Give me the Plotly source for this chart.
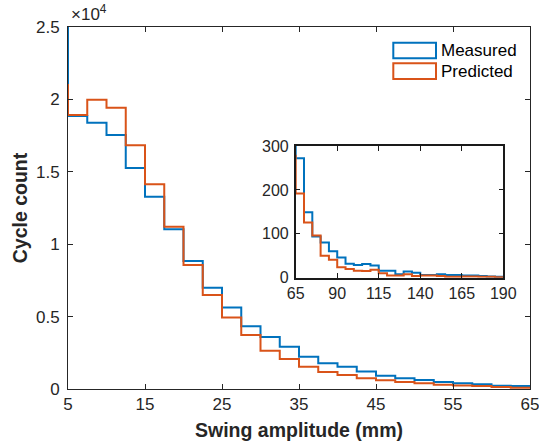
import plotly.graph_objects as go

# ---------------- data ----------------
# main histogram: bin left edges (mm), first and last bins lie outside the visible range
main_edges = [2.5, 5, 7.5, 10, 12.5, 15, 17.5, 20, 22.5, 25, 27.5, 30, 32.5, 35,
              37.5, 40, 42.5, 45, 47.5, 50, 52.5, 55, 57.5, 60, 62.5, 65, 67.5]
main_measured = [27000, 18850, 18390, 17540, 15260, 13280, 11030, 8840, 7000, 5620,
                 4330, 3590, 2920, 2230, 1770, 1540, 1200, 920, 740, 620, 480, 390,
                 320, 230, 200, 180]
main_predicted = [21000, 18920, 19980, 19430, 16830, 14140, 11210, 8560, 6490, 4930,
                  3730, 2650, 2070, 1540, 1170, 970, 740, 600, 480, 390, 300, 250,
                  200, 140, 90, 80]

# inset histogram (large amplitudes)
inset_edges = [60, 65, 70, 75, 80, 85, 90, 95, 100, 105, 110, 115, 120, 125, 130,
               135, 140, 145, 150, 155, 160, 165, 170, 175, 180, 185, 190, 195]
inset_measured = [400, 272, 149, 94, 80, 60, 46, 32, 29, 31, 28, 16, 16, 8, 14, 11,
                  6, 6, 8, 6, 6, 5, 5, 4, 3, 2, 2]
inset_predicted = [278, 192, 126, 96, 50, 41, 24, 20, 16, 15, 18, 10, 5, 5, 8, 4, 5,
                   5, 4, 2, 2, 3, 3, 2, 2, 1, 1]

main_xticks = [5, 15, 25, 35, 45, 55, 65]
main_yticks = [0, 5000, 10000, 15000, 20000, 25000]
main_yticktext = ["0", "0.5", "1", "1.5", "2", "2.5"]
inset_xticks = [65, 90, 115, 140, 165, 190]
inset_yticks = [0, 100, 200, 300]
series_names = ["Measured", "Predicted"]

BLUE = "#0072BD"
ORANGE = "#D95319"
AX = "#262626"
FONT = "Liberation Sans, Arial, sans-serif"


def stairs(edges, vals):
    # x = left edges plus final right edge; y repeats last value
    return list(edges), list(vals) + [vals[-1]]


fig = go.Figure()
for vals, col in [(main_measured, BLUE), (main_predicted, ORANGE)]:
    x, y = stairs(main_edges, vals)
    fig.add_trace(go.Scatter(x=x, y=y, mode="lines", line=dict(color=col, width=2, shape="hv"),
                             showlegend=False, xaxis="x", yaxis="y"))
for vals, col in [(inset_measured, BLUE), (inset_predicted, ORANGE)]:
    x, y = stairs(inset_edges, vals)
    fig.add_trace(go.Scatter(x=x, y=y, mode="lines", line=dict(color=col, width=2, shape="hv"),
                             showlegend=False, xaxis="x2", yaxis="y2"))

W, H = 539, 446
L, R, T, B = 68, 530, 27, 389
pw, ph = R - L, B - T


def px(xp):
    return (xp - L) / pw


def py(yp):
    return (B - yp) / ph


axis_common = dict(showline=True, mirror="ticks", ticks="inside", ticklen=5,
                   linecolor=AX, tickcolor=AX, linewidth=1, showgrid=False, zeroline=False,
                   automargin=False,
                   tickfont=dict(family=FONT, size=17, color=AX))
inset_axis = {**axis_common, "linecolor": "#1a1a1a", "tickcolor": "#1a1a1a", "linewidth": 1.5,
              "tickfont": dict(family=FONT, size=16, color=AX)}

fig.update_layout(
    width=W, height=H,
    margin=dict(l=L, r=W - R, t=T, b=H - B),
    paper_bgcolor="white", plot_bgcolor="white",
    font=dict(family=FONT, color=AX),
    xaxis=dict(range=[5, 65], tickvals=main_xticks, domain=[0, 1],
               ticklabeloverflow="allow",
               title=dict(text="<b>Swing amplitude (mm)</b>", font=dict(size=19.5, color=AX), standoff=9),
               **axis_common),
    yaxis=dict(range=[0, 25000], tickvals=main_yticks, ticktext=main_yticktext, domain=[0, 1],
               ticklabelstandoff=4,
               title=dict(text="<b>Cycle count</b>", font=dict(size=19.5, color=AX), standoff=3),
               **axis_common),
    xaxis2=dict(range=[65, 190], tickvals=inset_xticks, anchor="y2",
                domain=[px(295.7), px(503.3)], **inset_axis),
    yaxis2=dict(range=[0, 300], tickvals=inset_yticks, anchor="x2",
                domain=[py(277.7), py(146)], ticklabelstandoff=2, **inset_axis),
)

# legend drawn as histogram-style boxes
legend_rows = [(42.7, 58.3, BLUE, 50.7), (63.3, 79.0, ORANGE, 71.7)]
for (y0, y1, col, yc), name in zip(legend_rows, series_names):
    fig.add_shape(type="rect", xref="paper", yref="paper",
                  x0=px(393.3), x1=px(436), y0=py(y1), y1=py(y0),
                  line=dict(color=col, width=2), fillcolor="rgba(0,0,0,0)")
    fig.add_annotation(xref="paper", yref="paper", x=px(439), y=py(yc), text=name,
                       showarrow=False, xanchor="left", yanchor="middle",
                       font=dict(family=FONT, size=17, color="black"))

# exponent label
fig.add_annotation(xref="paper", yref="paper", x=px(69), y=py(26), text="×10<sup>4</sup>",
                   showarrow=False, xanchor="left", yanchor="bottom",
                   font=dict(family=FONT, size=17, color=AX))

fig.write_html("out.html")
